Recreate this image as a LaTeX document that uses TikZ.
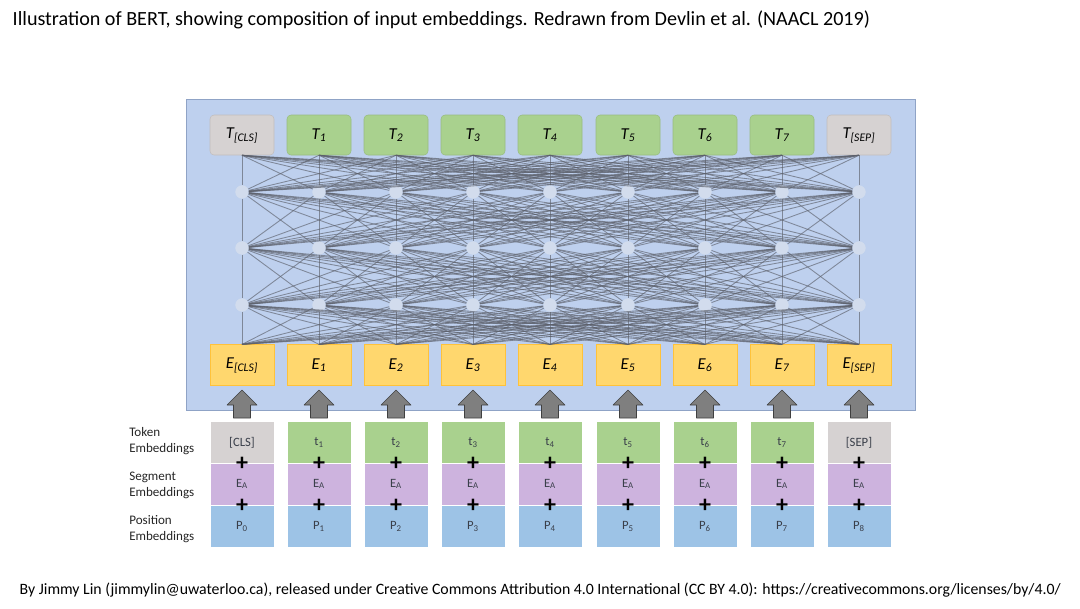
\documentclass[tikz,border=0pt]{standalone}
\usepackage{fontspec}
\setmainfont{Carlito}

\definecolor{panelblue}{HTML}{BED0EE}
\definecolor{panelline}{HTML}{8FA3C6}
\definecolor{tgreen}{HTML}{A9D18E}
\definecolor{tgray}{HTML}{D6D2D2}
\definecolor{eorange}{HTML}{FFD76E}
\definecolor{eline}{HTML}{FFC23A}
\definecolor{segpurple}{HTML}{CDB3DE}
\definecolor{posblue}{HTML}{9DC3E6}
\definecolor{wiregray}{HTML}{5C606B}
\definecolor{arrowgray}{HTML}{7F7F7F}
\definecolor{textdark}{HTML}{3A3F4A}

\begin{document}
\begin{tikzpicture}[x=0.75pt,y=-0.75pt]
\useasboundingbox (0,0) rectangle (1080,608);

\node[anchor=west,font=\fontsize{15.1}{17}\selectfont] (title) at (8,20)
    {Illustration of BERT, showing composition of input embeddings. Redrawn from Devlin et al. (NAACL 2019)};
\node[anchor=west,font=\fontsize{11.85}{14}\selectfont] (credit) at (15,590)
    {By Jimmy Lin (jimmylin@uwaterloo.ca), released under Creative Commons Attribution 4.0 International (CC BY 4.0): https://creativecommons.org/licenses/by/4.0/};

\node[draw=panelline,fill=panelblue,anchor=north west,inner sep=0,
      minimum width=546.75pt,minimum height=233.25pt] (panel) at (186,99) {};

% output tokens
\begin{scope}[every node/.style={rounded corners=3pt,minimum width=48pt,minimum height=30pt,
              inner sep=0,font=\fontsize{12.5}{14}\selectfont\itshape}]
    \node[fill=tgray,draw=tgray!90!black] (out0) at (242,135) {T\textsubscript{[CLS]}};
    \node[fill=tgreen,draw=tgreen!90!black] (out1) at (319,135) {T\textsubscript{1}};
    \node[fill=tgreen,draw=tgreen!90!black] (out2) at (396,135) {T\textsubscript{2}};
    \node[fill=tgreen,draw=tgreen!90!black] (out3) at (473,135) {T\textsubscript{3}};
    \node[fill=tgreen,draw=tgreen!90!black] (out4) at (550,135) {T\textsubscript{4}};
    \node[fill=tgreen,draw=tgreen!90!black] (out5) at (628,135) {T\textsubscript{5}};
    \node[fill=tgreen,draw=tgreen!90!black] (out6) at (705,135) {T\textsubscript{6}};
    \node[fill=tgreen,draw=tgreen!90!black] (out7) at (782,135) {T\textsubscript{7}};
    \node[fill=tgray,draw=tgray!90!black] (out8) at (859,135) {T\textsubscript{[SEP]}};
\end{scope}

% input embeddings
\begin{scope}[every node/.style={fill=eorange,draw=eline,minimum width=48pt,minimum height=30.5pt,
              inner sep=0,font=\fontsize{12.5}{14}\selectfont\itshape}]
    \node (emb0) at (242,365) {E\textsubscript{[CLS]}};
    \node (emb1) at (319,365) {E\textsubscript{1}};
    \node (emb2) at (396,365) {E\textsubscript{2}};
    \node (emb3) at (473,365) {E\textsubscript{3}};
    \node (emb4) at (550,365) {E\textsubscript{4}};
    \node (emb5) at (628,365) {E\textsubscript{5}};
    \node (emb6) at (705,365) {E\textsubscript{6}};
    \node (emb7) at (782,365) {E\textsubscript{7}};
    \node (emb8) at (859,365) {E\textsubscript{[SEP]}};
\end{scope}

% transformer layers
\foreach \i/\x in {0/242,1/319,2/396,3/473,4/550,5/628,6/705,7/782,8/859} {
    \coordinate (top\i) at (out\i.south);
    \coordinate (bot\i) at (emb\i.north);
    \foreach \r/\y in {1/192,2/248,3/305}
        \node[circle,fill=white!85!gray,opacity=0.45,inner sep=0,minimum size=10pt] (h\r\i) at (\x,\y) {};
}
\foreach \a/\b in {top/h1,h1/h2,h2/h3,h3/bot}
    \foreach \i in {0,...,8}
        \foreach \j in {0,...,8}
            \draw[wiregray,line width=0.65pt,opacity=0.65] (\a\i) -- (\b\j);

% arrows into the encoder
\foreach \i/\x in {0/242,1/319,2/396,3/473,4/550,5/628,6/705,7/782,8/859} {
    \coordinate (up\i) at (\x,390);
    \draw[fill=arrowgray,draw=black!75,line join=round]
        (up\i) -- ++(15,15) -- ++(-6.5,0) -- ++(0,13) -- ++(-17,0) -- ++(0,-13) -- ++(-6.5,0) -- cycle;
}

% token / segment / position rows
\begin{scope}[every node/.style={draw=white,line width=0.6pt,minimum width=48pt,minimum height=31.5pt,
              inner sep=0,text=textdark,font=\fontsize{9.5}{11}\selectfont}]
    \node[fill=tgray] (tok0) at (242,442.5) {[CLS]};
    \foreach \i/\x in {1/319,2/396,3/473,4/550,5/628,6/705,7/782}
        \node[fill=tgreen] (tok\i) at (\x,442.5) {t\textsubscript{\i}};
    \node[fill=tgray] (tok8) at (859,442.5) {[SEP]};
    \foreach \i/\x in {0/242,1/319,2/396,3/473,4/550,5/628,6/705,7/782,8/859} {
        \node[fill=segpurple] (seg\i) at (\x,484) {E\textsubscript{A}};
        \node[fill=posblue] (pos\i) at (\x,526.5) {P\textsubscript{\i}};
    }
\end{scope}

\begin{scope}[every node/.style={inner sep=0,font=\fontsize{18}{18}\selectfont\bfseries}]
    \foreach \i in {0,...,8} {
        \node (plusA\i) at (tok\i.south) {+};
        \node (plusB\i) at (seg\i.south) {+};
    }
\end{scope}

% row labels
\begin{scope}[every node/.style={anchor=west,align=left,inner sep=0,
              font=\fontsize{9.8}{12}\selectfont,text=black!85}]
    \node (lblTok) at (129,441) {Token\\Embeddings};
    \node (lblSeg) at (129,485) {Segment\\Embeddings};
    \node (lblPos) at (129,529) {Position\\Embeddings};
\end{scope}
\end{tikzpicture}
\end{document}
